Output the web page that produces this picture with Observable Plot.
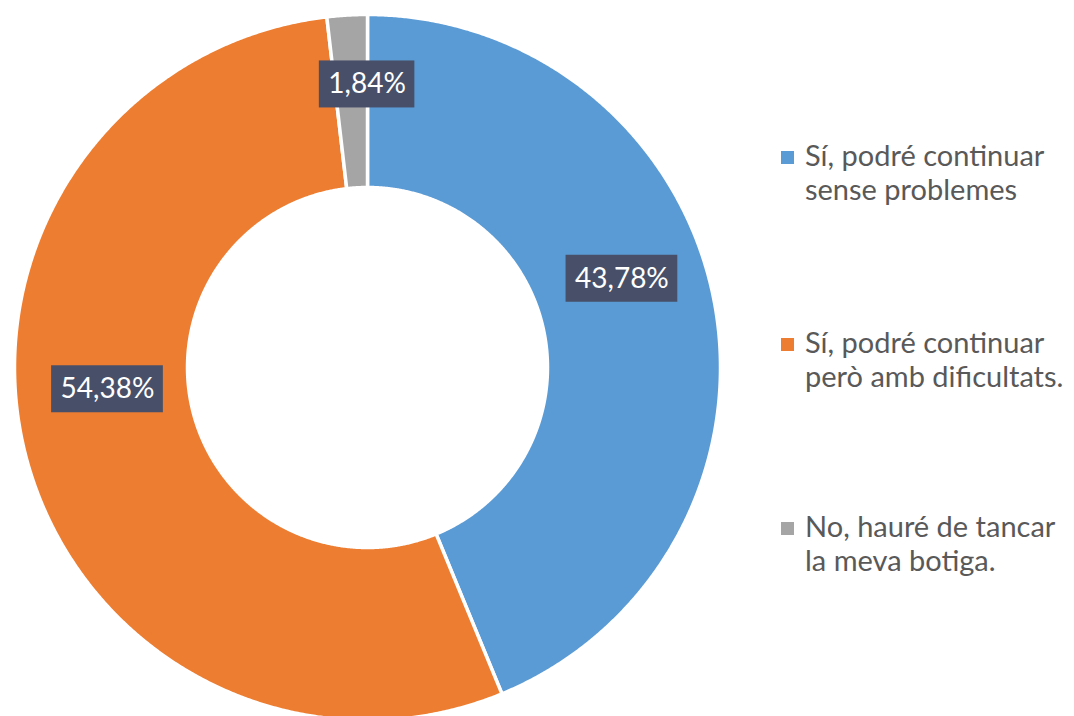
<!DOCTYPE html>
<html><head><meta charset="utf-8">
<script src="https://cdn.jsdelivr.net/npm/d3@7"></script>
<script src="https://cdn.jsdelivr.net/npm/@observablehq/plot@0.6"></script>
<style>
body{margin:0;background:#fff;font-family:Lato,sans-serif;}
#wrap{position:relative;width:1074px;height:716px;overflow:hidden;}
#legend{position:absolute;left:781px;top:0;}
.item{position:absolute;left:0;width:290px;}
.sw{position:absolute;left:0;width:13px;height:13px;}
.lt{position:absolute;left:24px;top:0;font-size:29px;line-height:34px;color:#595959;white-space:nowrap;}
</style></head><body><div id="wrap"><div id="chart"></div><div id="legend"></div></div>
<script>
const categories = ["Sí, podré continuar sense problemes", "Sí, podré continuar però amb dificultats.", "No, hauré de tancar la meva botiga."];
const values = [43.78, 54.38, 1.84];
const valueLabels = ["43,78%", "54,38%", "1,84%"];
const legendLines = [["Sí, podré continuar", "sense problemes"], ["Sí, podré continuar", "però amb dificultats."], ["No, hauré de tancar", "la meva botiga."]];
const colors = ["#5B9BD5", "#ED7D31", "#A5A5A5"];

const W = 1074, H = 716, cx = 367, cy = 367, R = 353;
const rIn = 180 / R;
const total = d3.sum(values);
let acc = 0;
const slices = categories.map((c, i) => {
  const a0 = acc / total * 2 * Math.PI; acc += values[i];
  const a1 = acc / total * 2 * Math.PI;
  return {c, a0, a1, i};
});
const pts = [];
for (const s of slices) {
  const n = Math.max(4, Math.ceil((s.a1 - s.a0) / 0.005));
  const ring = [];
  for (let k = 0; k <= n; k++) { const a = s.a0 + (s.a1 - s.a0) * k / n; ring.push([Math.sin(a), Math.cos(a)]); }
  for (let k = n; k >= 0; k--) { const a = s.a0 + (s.a1 - s.a0) * k / n; ring.push([rIn * Math.sin(a), rIn * Math.cos(a)]); }
  ring.push(ring[0]);
  ring.forEach(([x, y]) => pts.push({cat: s.c, x, y}));
}
// label placement (Excel-like offsets in px)
const offs = [[-7, -37], [-2, -45], [15, -17]];
const fontSize = 28;
const ctx = document.createElement("canvas").getContext("2d");
ctx.font = `${fontSize}px Lato`;
const rm = (1 + rIn) / 2;
const lab = slices.map((s, i) => {
  const am = (s.a0 + s.a1) / 2;
  const x = rm * Math.sin(am) + offs[i][0] / R;
  const y = rm * Math.cos(am) - offs[i][1] / R;
  const w = (ctx.measureText(valueLabels[i]).width + 18) / R;
  const h = 47 / R;
  return {x, y, x1: x - w / 2, x2: x + w / 2, y1: y - h / 2, y2: y + h / 2, t: valueLabels[i]};
});

const chart = Plot.plot({
  width: W, height: H, margin: 0,
  x: {domain: [-cx / R, (W - cx) / R], range: [0, W], axis: null},
  y: {domain: [-(H - cy) / R, cy / R], range: [H, 0], axis: null},
  color: {domain: categories, range: colors},
  style: {background: "#fff"},
  marks: [
    Plot.line(pts, {x: "x", y: "y", z: "cat", fill: "cat", stroke: "#fff", strokeWidth: 3.5, curve: "linear"}),
    Plot.rect(lab, {x1: "x1", x2: "x2", y1: "y1", y2: "y2", fill: "#485069"}),
    Plot.text(lab, {x: "x", y: "y", text: "t", fill: "#fff", fontSize, fontFamily: "Lato", textAnchor: "middle"})
  ]
});
document.getElementById("chart").append(chart);

const legendTops = [138, 325, 509];
const leg = document.getElementById("legend");
categories.forEach((c, i) => {
  const it = document.createElement("div"); it.className = "item"; it.style.top = legendTops[i] + "px";
  const sw = document.createElement("div"); sw.className = "sw"; sw.style.background = colors[i]; sw.style.top = "13px";
  const t = document.createElement("div"); t.className = "lt"; t.innerHTML = legendLines[i].join("<br>");
  it.append(sw, t); leg.append(it);
});
</script></body></html>
